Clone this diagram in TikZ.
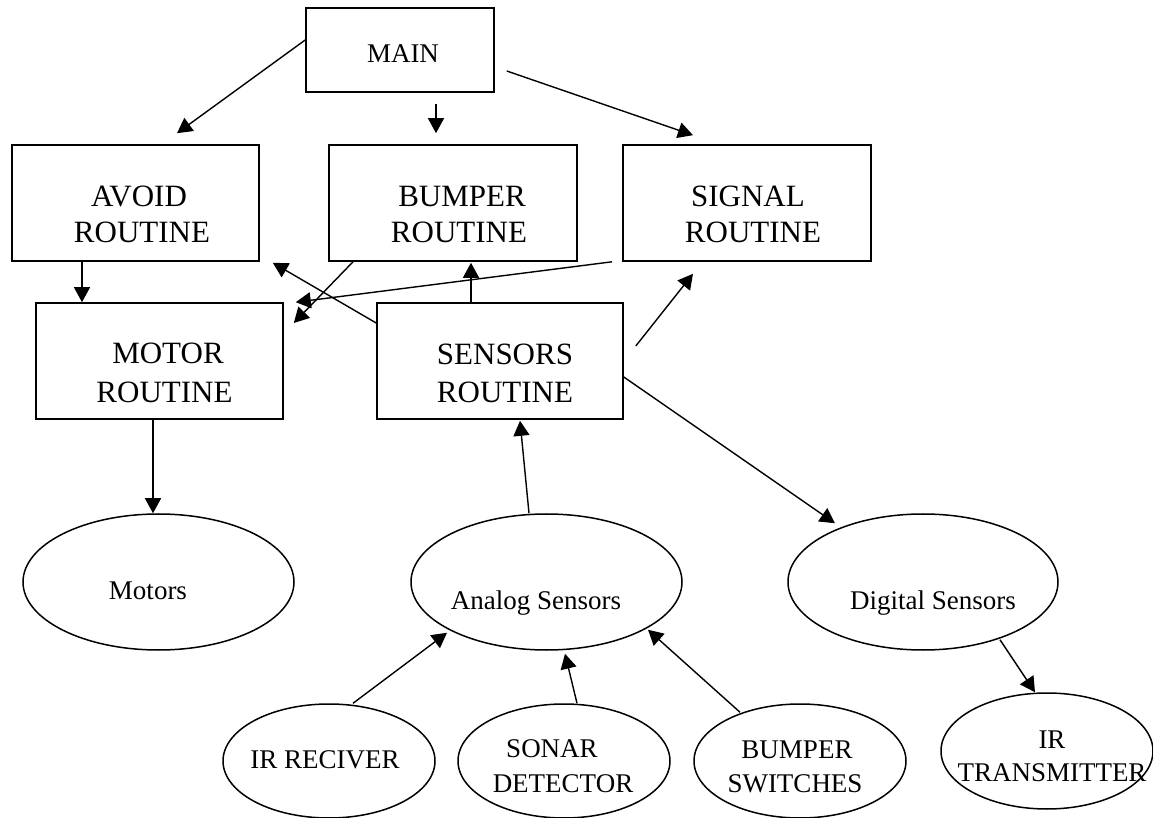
\documentclass[tikz,border=0pt]{standalone}
\usepackage{fontspec}
\setmainfont{Liberation Serif}
\usetikzlibrary{shapes.geometric,arrows.meta,calc}
\begin{document}
\begin{tikzpicture}[x=0.5pt,y=-0.5pt,
  box/.style={draw,line width=0.8pt,rectangle,inner sep=0pt},
  oval/.style={draw,line width=0.75pt,ellipse,inner sep=0pt},
  btxt/.style={anchor=base,inner sep=0pt,font=\fontsize{15.5pt}{18pt}\selectfont},
  stxt/.style={anchor=base,inner sep=0pt,font=\fontsize{13.5pt}{16pt}\selectfont},
  arr/.style={line width=0.7pt,-{Triangle[length=7.5pt,width=8pt]}}]
\useasboundingbox (0,0) rectangle (1153,818);
% boxes
\node[box,minimum width=94pt,minimum height=42pt] (main) at (400,50) {};
\node[box,minimum width=123.5pt,minimum height=58pt] (avoid) at (135.5,203) {};
\node[box,minimum width=124pt,minimum height=58pt] (bumper) at (453,203) {};
\node[box,minimum width=124pt,minimum height=58pt] (signal) at (747,203) {};
\node[box,minimum width=123.5pt,minimum height=58pt] (motor) at (159.5,361) {};
\node[box,minimum width=123pt,minimum height=58pt] (sensors) at (500,361) {};
% ellipses
\node[oval,minimum width=135.5pt,minimum height=68pt] (motors) at (158.5,582) {};
\node[oval,minimum width=135.5pt,minimum height=68pt] (analog) at (546.5,582) {};
\node[oval,minimum width=135pt,minimum height=68pt] (digital) at (923,582) {};
\node[oval,minimum width=106pt,minimum height=57pt] (irrec) at (329,761) {};
\node[oval,minimum width=106pt,minimum height=57pt] (sonar) at (564,761) {};
\node[oval,minimum width=106pt,minimum height=57pt] (bswitch) at (800,761) {};
\node[oval,minimum width=106pt,minimum height=58pt] (irtx) at (1047,751) {};
% texts
\node[stxt] (tmain) at (403,63) {MAIN};
\node[btxt] (tavoid1) at (139,207) {AVOID};
\node[btxt] (tavoid2) at (142,243) {ROUTINE};
\node[btxt] (tbump1) at (462,207) {BUMPER};
\node[btxt] (tbump2) at (459,243) {ROUTINE};
\node[btxt] (tsig1) at (748,207) {SIGNAL};
\node[btxt] (tsig2) at (753,243) {ROUTINE};
\node[btxt] (tmot1) at (168,364) {MOTOR};
\node[btxt] (tmot2) at (164.5,403) {ROUTINE};
\node[btxt] (tsen1) at (505,365) {SENSORS};
\node[btxt] (tsen2) at (505,403) {ROUTINE};
\node[stxt] (tmotors) at (148,600) {Motors};
\node[stxt] (tanalog) at (536,610) {Analog Sensors};
\node[stxt] (tdigital) at (933,610) {Digital Sensors};
\node[stxt] (tirrec) at (325,768) {IR RECIVER};
\node[stxt] (tsonar1) at (552,757) {SONAR};
\node[stxt] (tsonar2) at (563,792) {DETECTOR};
\node[stxt] (tbsw1) at (797,758) {BUMPER};
\node[stxt] (tbsw2) at (795,792) {SWITCHES};
\node[stxt] (tirtx1) at (1052,748) {IR};
\node[stxt] (tirtx2) at (1052,781) {TRANSMITTER};
% connectors
\draw[arr] ($(main.west)+(0,-10)$) -- ($(avoid.north)+(41.5,-11)$);
\draw[arr] ($(main.south)+(36,11)$) -- ($(bumper.north)+(-17,-11)$);
\draw[arr] ($(main.east)+(12,21)$) -- ($(signal.north)+(-54,-9)$);
\draw[arr] ($(avoid.south)+(-53.5,0)$) -- ($(motor.north)+(-77.5,0)$);
\draw[arr] ($(bumper.south)+(-100,0)$) -- ($(motor.east)+(10,-38)$);
\draw[arr] ($(signal.south)+(-135,0)$) -- ($(motor.north east)+(12,0)$);
\draw[arr] ($(sensors.west)+(0,-38)$) -- ($(avoid.south east)+(13,1)$);
\draw[arr] ($(sensors.north)+(-29,0)$) -- ($(bumper.south)+(18,1)$);
\draw[arr] ($(sensors.east)+(12,-15)$) -- ($(signal.south)+(-54,12)$);
\draw[arr] ($(sensors.east)+(0,16)$) -- ($(digital.north)+(-88,10)$);
\draw[arr] ($(motor.south)+(-6.5,0)$) -- ($(motors.north)+(-5.5,0)$);
\draw[arr] ($(analog.north)+(-17.5,0)$) -- ($(sensors.south)+(20,1)$);
\draw[arr] ($(irrec.north)+(24,0)$) -- ($(analog.south)+(-99.5,-18)$);
\draw[arr] ($(sonar.north)+(13,0)$) -- ($(analog.south)+(18.5,3)$);
\draw[arr] ($(bswitch.north)+(-60,9)$) -- ($(analog.south)+(101.5,-21)$);
\draw[arr] ($(digital.south)+(77,-11)$) -- ($(irtx.north)+(-12,0)$);
\end{tikzpicture}
\end{document}
